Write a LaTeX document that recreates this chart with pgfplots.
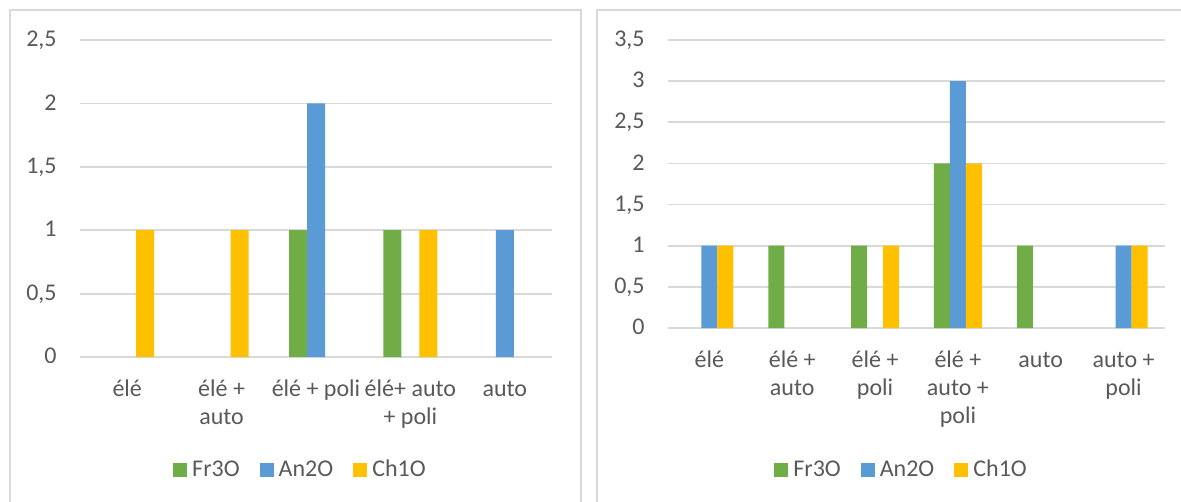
\documentclass[border=0pt]{standalone}
\usepackage{fontspec}
\setmainfont{Carlito}
\usepackage{pgfplots}
\pgfplotsset{compat=1.18}
\definecolor{cFr}{HTML}{70AD47}
\definecolor{cAn}{HTML}{5B9BD5}
\definecolor{cCh}{HTML}{FFC000}
\definecolor{cTxt}{HTML}{595959}
\definecolor{cGrid}{HTML}{D9D9D9}
\pgfplotsset{
  exstyle/.style={
    scale only axis,
    ybar, ybar=0pt,
    ymin=0,
    axis line style={draw=none},
    major tick length=0pt,
    ymajorgrids,
    major grid style={draw=cGrid, line width=0.9pt},
    enlarge x limits=false,
    /pgf/number format/use comma,
    /pgf/number format/assume math mode=true,
    tick label style={font=\fontsize{12}{14}\selectfont, text=cTxt},
    yticklabel style={anchor=base east, inner sep=0pt, xshift=-11.5pt, yshift=-3.3pt},
    xticklabel style={align=center, anchor=north, inner sep=0pt, yshift=-9.7pt},
    legend columns=3,
    legend style={draw=none, fill=none, font=\fontsize{12}{14}\selectfont, text=cTxt,
      nodes={inner sep=0pt},
      /tikz/every odd column/.append style={column sep=2.5pt},
      /tikz/every even column/.append style={column sep=10pt}},
    legend image code/.code={\fill[#1] (0pt,-3.5pt) rectangle (7pt,3.5pt);},
  }
}
\begin{document}
\begin{tikzpicture}
\useasboundingbox (0,0) rectangle (590.5pt,-251pt);
\draw[cGrid, line width=1pt] (5pt,-5pt) rectangle (290.5pt,-300pt);
\draw[cGrid, line width=1pt] (298.5pt,-5pt) rectangle (650pt,-300pt);
% left chart (zero values are not drawn)
\begin{axis}[exstyle,
  at={(40pt,-178.5pt)}, anchor=south west,
  width=236pt, height=158.5pt,
  xmin=-0.5, xmax=4.5, ymax=2.5,
  ytick={0,0.5,1,1.5,2,2.5},
  xtick={0,1,2,3,4},
  bar width=9pt,
  xticklabels={{\strut élé},{\strut élé +\\auto},{\strut élé + poli},{\strut élé+ auto\\+ poli},{\strut auto}},
  legend style={at={(axis description cs:0.465,-0.356)}, anchor=center},
]
\addplot[fill=cFr, draw=none] coordinates {(2,1) (3,1)};
\addplot[fill=cAn, draw=none] coordinates {(2,2) (4,1)};
\addplot[fill=cCh, draw=none] coordinates {(0,1) (1,1) (3,1)};
\legend{Fr3O, An2O, Ch1O}
\end{axis}
% right chart (zero values are not drawn)
\begin{axis}[exstyle,
  at={(334pt,-164pt)}, anchor=south west,
  width=248.5pt, height=144pt,
  xmin=-0.5, xmax=5.5, ymax=3.5,
  ytick={0,0.5,1,1.5,2,2.5,3,3.5},
  xtick={0,1,2,3,4,5},
  bar width=8pt,
  xticklabels={{\strut élé},{\strut élé +\\auto},{\strut élé +\\poli},{\strut élé +\\auto +\\poli},{\strut auto},{\strut auto +\\poli}},
  legend style={at={(axis description cs:0.468,-0.493)}, anchor=center},
]
\addplot[fill=cFr, draw=none] coordinates {(1,1) (2,1) (3,2) (4,1)};
\addplot[fill=cAn, draw=none] coordinates {(0,1) (3,3) (5,1)};
\addplot[fill=cCh, draw=none] coordinates {(0,1) (2,1) (3,2) (5,1)};
\legend{Fr3O, An2O, Ch1O}
\end{axis}
\end{tikzpicture}
\end{document}
